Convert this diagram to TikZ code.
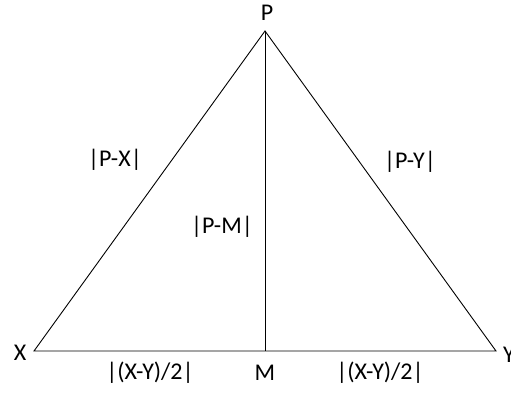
\documentclass[tikz,border=0pt]{standalone}
\usepackage{fontspec}
\setmainfont{Carlito}
\begin{document}
\begin{tikzpicture}[x=1pt,y=-1pt,
  lbl/.style={inner sep=0pt, font=\fontsize{24}{28}\selectfont},
  edge/.style={line width=0.9pt, black}]
\useasboundingbox (0,0) rectangle (511,396);
\coordinate (P) at (265,31);
\coordinate (X) at (34,351);
\coordinate (Y) at (496,351);
\coordinate (M) at (265,351);
\draw[edge] (X) -- (P) -- (Y) -- cycle;
\draw[edge] (P) -- (M);
\node[lbl] (lP) at (267,13) {P};
\node[lbl] (lX) at (20,353) {X};
\node[lbl] (lY) at (509,355) {Y};
\node[lbl] (lM) at (265,373) {M};
\node[lbl] (lPX) at (115,160) {|P-X|};
\node[lbl] (lPY) at (410,162) {|P-Y|};
\node[lbl] (lPM) at (222,227) {|P-M|};
\node[lbl] (lXY1) at (150,373) {|(X-Y)/2|};
\node[lbl] (lXY2) at (380,373) {|(X-Y)/2|};
\end{tikzpicture}
\end{document}
